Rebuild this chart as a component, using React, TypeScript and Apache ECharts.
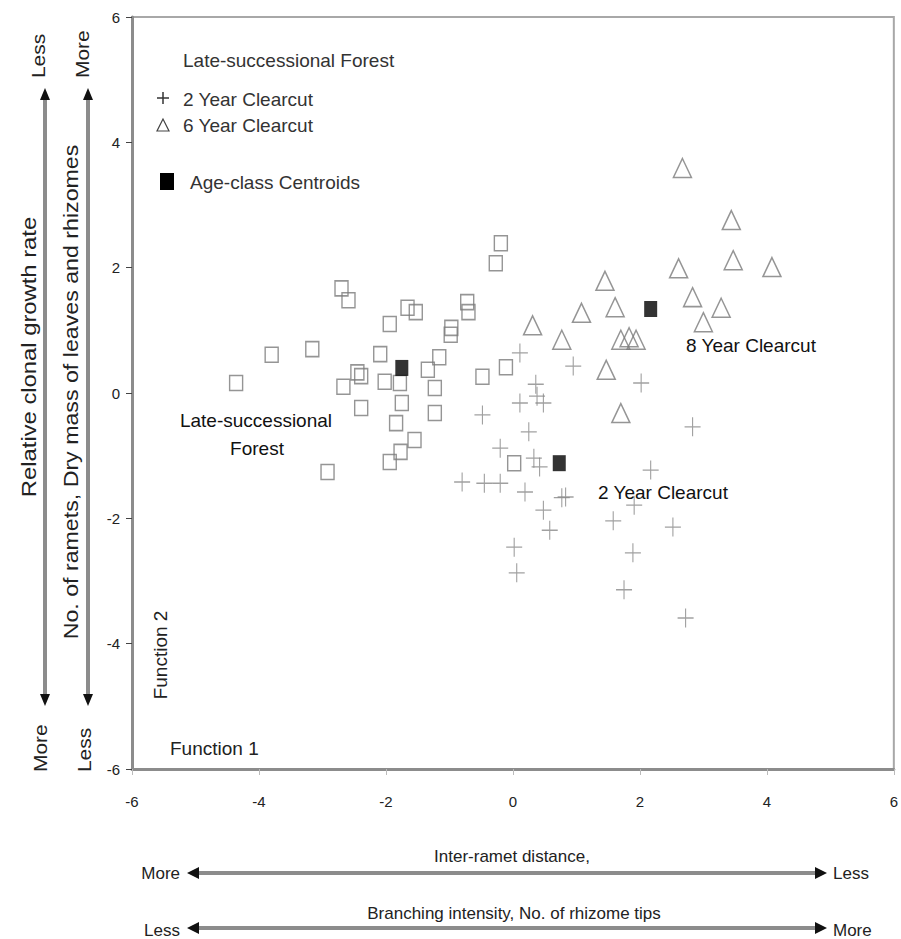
import React, { useEffect, useRef } from "react";
import * as echarts from "echarts";

// Discriminant function scores (Function 1, Function 2)
const lateForest: [number, number][] = [
  [-4.36, 0.16], [-3.8, 0.61], [-3.16, 0.7], [-2.92, -1.26], [-2.7, 1.67], [-2.59, 1.48],
  [-2.67, 0.1], [-2.45, 0.33], [-2.39, 0.27], [-2.02, 0.18], [-2.39, -0.24], [-2.09, 0.62],
  [-1.94, 1.1], [-1.66, 1.36], [-1.53, 1.29], [-1.78, 0.16], [-1.75, -0.16], [-1.84, -0.48],
  [-1.55, -0.75], [-1.77, -0.94], [-1.94, -1.1], [-1.34, 0.37], [-1.23, 0.08], [-1.23, -0.32],
  [-1.16, 0.57], [-0.97, 1.04], [-0.98, 0.93], [-0.72, 1.45], [-0.7, 1.29], [-0.19, 2.39],
  [-0.27, 2.07], [-0.48, 0.26], [-0.11, 0.41], [0.02, -1.12],
];
const sixYear: [number, number][] = [
  [2.67, 3.59], [3.44, 2.76], [3.47, 2.12], [4.08, 2.01], [2.61, 1.99], [2.83, 1.53],
  [3.28, 1.36], [3.0, 1.13], [1.45, 1.79], [1.61, 1.37], [1.08, 1.28], [0.31, 1.08],
  [0.77, 0.85], [1.7, 0.85], [1.83, 0.89], [1.94, 0.85], [1.47, 0.37], [1.7, -0.32],
];
const twoYear: [number, number][] = [
  [0.11, 0.64], [0.95, 0.43], [2.02, 0.16], [0.36, 0.14], [0.38, -0.05], [0.11, -0.16],
  [0.48, -0.16], [-0.48, -0.35], [2.83, -0.54], [0.25, -0.62], [-0.2, -0.88], [0.33, -1.04],
  [0.42, -1.18], [2.17, -1.23], [-0.8, -1.42], [-0.45, -1.44], [-0.2, -1.44], [0.19, -1.58],
  [0.77, -1.67], [0.83, -1.66], [1.91, -1.79], [0.48, -1.87], [1.58, -2.04], [2.52, -2.14],
  [0.58, -2.19], [1.89, -2.55], [0.02, -2.46], [0.06, -2.87], [1.75, -3.14], [2.72, -3.59],
];
const centroids: [number, number][] = [[-1.75, 0.4], [0.73, -1.12], [2.17, 1.34]];

const axisMin = -6;
const axisMax = 6;
const axisStep = 2;

const FONT = "'Liberation Sans', Arial, sans-serif";
const CROSS = "path://M5,0 L5,10 M0,5 L10,5";

function txt(text: string, x: number, y: number, extra: any = {}, rotation = 0): any {
  const align = extra.align || "left";
  const valign = extra.verticalAlign || "middle";
  return {
    type: "text",
    x,
    y,
    rotation,
    scaleX: extra.scaleX || 1,
    z: 100,
    style: {
      text,
      fontSize: extra.fontSize || 19,
      fontFamily: FONT,
      fontWeight: extra.fontWeight || "normal",
      fill: extra.fill || "#222",
      align,
      verticalAlign: valign,
      textAlign: align,
      textVerticalAlign: valign,
    },
  };
}

function line(x1: number, y1: number, x2: number, y2: number, color = "#8c8c8c", w = 4): any {
  return { type: "line", z: 90, shape: { x1, y1, x2, y2 }, style: { stroke: color, lineWidth: w } };
}

function head(points: number[][]): any {
  return { type: "polygon", z: 95, shape: { points }, style: { fill: "#111" } };
}

export default function App() {
  const ref = useRef<HTMLDivElement>(null);

  useEffect(() => {
    const chart = echarts.init(ref.current!, null, { renderer: "svg" });

    const vArrow = (x: number) => [
      line(x, 96, x, 698),
      head([[x, 88], [x - 5, 100], [x + 5, 100]]),
      head([[x, 706], [x - 5, 694], [x + 5, 694]]),
    ];
    const hArrow = (y: number) => [
      line(196, y, 818, y),
      head([[187, y], [199, y - 6], [199, y + 6]]),
      head([[827, y], [815, y - 6], [815, y + 6]]),
    ];

    const graphics: any[] = [
      // legend
      txt("Late-successional Forest", 183, 60, { fill: "#333" }),
      line(163, 92, 163, 104, "#333", 1.5),
      line(157, 98, 169, 98, "#333", 1.5),
      txt("2 Year Clearcut", 183, 99, { fill: "#333" }),
      {
        type: "polygon", z: 95,
        shape: { points: [[163, 119], [157, 131], [169, 131]] },
        style: { fill: "none", stroke: "#444", lineWidth: 1.2 },
      },
      txt("6 Year Clearcut", 183, 125, { fill: "#333" }),
      { type: "rect", z: 95, shape: { x: 160, y: 173, width: 14, height: 17 }, style: { fill: "#000" } },
      txt("Age-class Centroids", 190, 182, { fill: "#333" }),
      // group annotations
      txt("Late-successional", 256, 420, { align: "center", fill: "#111" }),
      txt("Forest", 257, 448, { align: "center", fill: "#111" }),
      txt("8 Year Clearcut", 686, 345, { fill: "#111" }),
      txt("2 Year Clearcut", 598, 492, { fill: "#111" }),
      txt("Function 1", 170, 748, { fill: "#222" }),
      txt("Function 2", 160, 655, { align: "center", fill: "#222" }, Math.PI / 2),
      // left axis meaning
      txt("Relative clonal growth rate", 29, 357, { align: "center", fontSize: 20, scaleX: 1.19 }, Math.PI / 2),
      txt("No. of ramets, Dry mass of leaves and rhizomes", 71, 392, { align: "center", fontSize: 20, scaleX: 1.16 }, Math.PI / 2),
      txt("Less", 38, 78, { fontSize: 19, scaleX: 1.1 }, Math.PI / 2),
      txt("More", 82, 78, { fontSize: 19, scaleX: 1.1 }, Math.PI / 2),
      txt("More", 40, 772, { fontSize: 19, scaleX: 1.1 }, Math.PI / 2),
      txt("Less", 84, 772, { fontSize: 19, scaleX: 1.1 }, Math.PI / 2),
      ...vArrow(45),
      ...vArrow(88),
      // bottom axis meaning
      txt("Inter-ramet distance,", 512, 856, { align: "center", fontSize: 17 }),
      txt("Branching intensity, No. of rhizome tips", 514, 913, { align: "center", fontSize: 17 }),
      txt("More", 180, 873, { align: "right", fontSize: 17 }),
      txt("Less", 833, 873, { fontSize: 17 }),
      txt("Less", 180, 930, { align: "right", fontSize: 17 }),
      txt("More", 833, 930, { fontSize: 17 }),
      ...hArrow(873),
      ...hArrow(928),
    ];

    chart.setOption({
      animation: false,
      backgroundColor: "#fff",
      grid: {
        left: 132, top: 17, width: 767, height: 752,
        show: true, borderColor: "#a8a8a8", borderWidth: 2, backgroundColor: "transparent",
      },
      xAxis: {
        type: "value", min: axisMin, max: axisMax, interval: axisStep,
        axisLine: { show: true, onZero: false, lineStyle: { color: "#8c8c8c", width: 3 } },
        axisTick: { show: true, length: 6, lineStyle: { color: "#bbb" } },
        splitLine: { show: false },
        axisLabel: { color: "#222", fontSize: 15, fontFamily: FONT, margin: 25 },
      },
      yAxis: {
        type: "value", min: axisMin, max: axisMax, interval: axisStep,
        axisLine: { show: true, onZero: false, lineStyle: { color: "#8c8c8c", width: 3 } },
        axisTick: { show: true, length: 6, lineStyle: { color: "#444" } },
        splitLine: { show: false },
        axisLabel: { color: "#222", fontSize: 15, fontFamily: FONT, margin: 12 },
      },
      series: [
        {
          name: "Late-successional Forest", type: "scatter", data: lateForest,
          symbol: "rect", symbolSize: [13, 15],
          itemStyle: { color: "rgba(0,0,0,0)", borderColor: "#7a7a7a", borderWidth: 1.5 },
        },
        {
          name: "6 Year Clearcut", type: "scatter", data: sixYear,
          symbol: "triangle", symbolSize: [18, 19],
          itemStyle: { color: "rgba(0,0,0,0)", borderColor: "#7a7a7a", borderWidth: 1.5 },
        },
        {
          name: "2 Year Clearcut", type: "scatter", data: twoYear,
          symbol: CROSS, symbolSize: [16, 19],
          itemStyle: { color: "rgba(0,0,0,0)", borderColor: "#888", borderWidth: 1.2 },
        },
        {
          name: "Age-class Centroids", type: "scatter", data: centroids,
          symbol: "rect", symbolSize: [13, 16], z: 5,
          itemStyle: { color: "#000" },
        },
      ],
      graphic: graphics,
    });

    return () => chart.dispose();
  }, []);

  return <div ref={ref} style={{ position: "absolute", left: 0, top: 0, width: 901, height: 939 }} />;
}
